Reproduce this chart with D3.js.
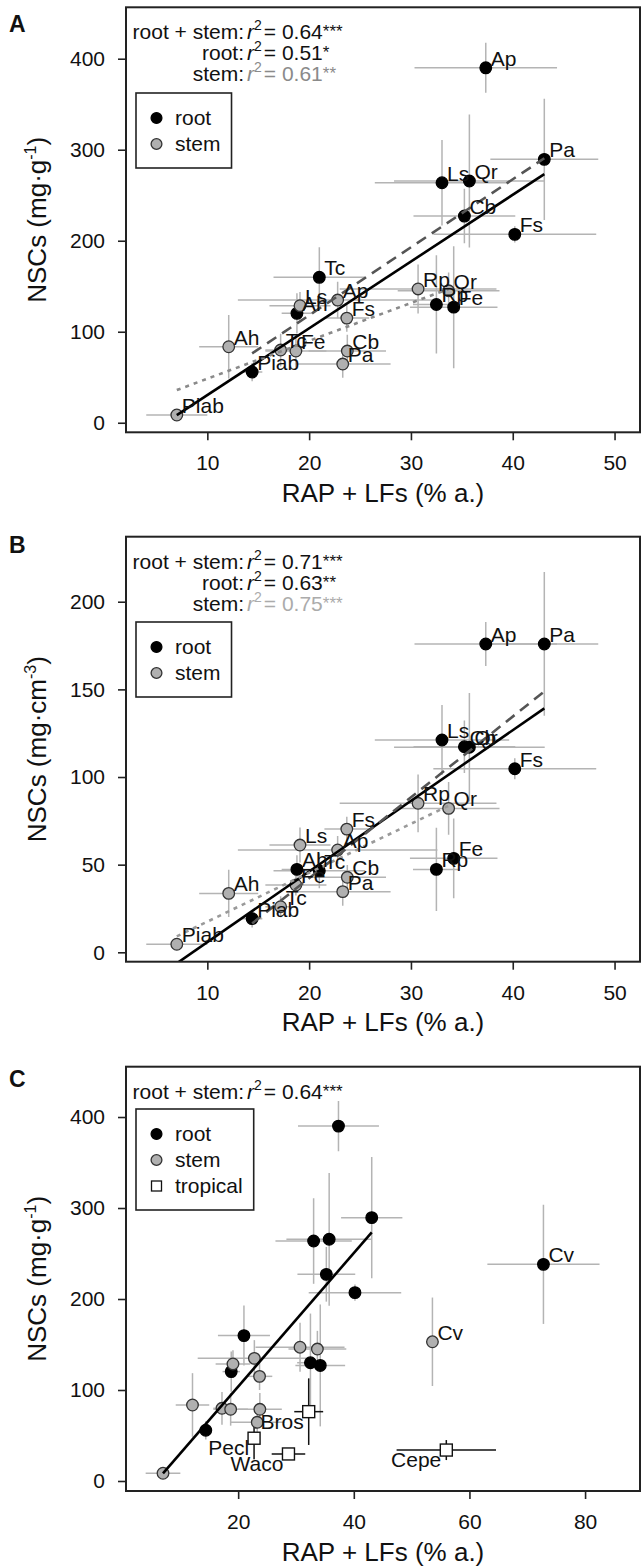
<!DOCTYPE html>
<html>
<head>
<meta charset="utf-8">
<script src="https://cdn.jsdelivr.net/npm/d3@7"></script>
<style>
  body { margin: 0; background: #fff; }
  text { font-family: "Liberation Sans", Arial, Helvetica, sans-serif; fill: #111; }
</style>
</head>
<body>
<script>
// ---- data ----
// RAP + LFs (% a.) is the same in panels A and B
const rootSpecies = ["Ap", "Pa", "Ls", "Qr", "Cb", "Fs", "Tc", "Ah", "Rp", "Fe", "Piab"];
const rootRap     = [37.35, 43.1, 33.05, 35.74, 35.25, 40.2, 21.0, 18.8, 32.5, 34.2, 14.4];
const rootRapErr  = [7.0, 5.3, 6.6, 7.4, 5.0, 8.0, 4.5, 1.5, 2.3, 4.3, 1.0];
const rootNscMass    = [390, 289.4, 263.7, 265.6, 227.1, 207, 159.8, 120.2, 130, 127, 55.7];
const rootNscMassErr = [27.5, 66.6, 47, 73, 30, 9, 33, 22, 54, 67, 10];
const rootNscVol     = [175.9, 175.9, 121.1, 117, 117.3, 104.7, 46.5, 47.3, 47.3, 53.6, 19.2];
const rootNscVolErr  = [12.6, 41, 20, 31, 15, 6, 10, 8, 23.7, 22.8, 5];

const stemSpecies = ["Rp", "Qr", "Ap", "Ls", "Fs", "Ah", "Tc", "Fe", "Cb", "Pa", "Piab"];
const stemRap     = [30.7, 33.7, 22.8, 19.1, 23.7, 12.1, 17.2, 18.7, 23.75, 23.3, 7.0];
const stemRapErr  = [7.7, 5.0, 9.8, 3.0, 2.2, 2.9, 1.5, 3.0, 3.8, 4.7, 3.0];
const stemNscMass    = [147, 145, 134.8, 128.6, 115, 83.5, 79.9, 78.8, 78.8, 64.5, 8.5];
const stemNscMassErr = [27, 20, 20, 15, 15, 35, 18, 18, 18, 15, 3];
const stemNscVol     = [85, 82.1, 58.4, 61.2, 70.3, 33.6, 26, 38.4, 42.8, 34.6, 4.6];
const stemNscVolErr  = [16.5, 15, 8, 10, 7, 13.5, 6, 6, 7, 8, 2];

// extra species only shown in panel C
const cvRoot = { name: "Cv", rap: 72.8, rapErr: 9.7, nsc: 238.1, nscErr: 65.5 };
const cvStem = { name: "Cv", rap: 53.6, rapErr: 0.5, nsc: 153, nscErr: 48.6 };
const tropicalSpecies = ["Bros", "Pecl", "Waco", "Cepe"];
const tropicalRap     = [32.2, 22.75, 28.7, 56.0];
const tropicalRapErr  = [2.5, 0.8, 2.9, 8.6];
const tropicalNsc     = [76.2, 47, 29.7, 34];
const tropicalNscErr  = [36.6, 23, 4, 11];

// regression fits: [intercept, slope]
const fitAllMass  = [-42.9, 7.335];
const fitRootMass = [-31.3, 7.47];
const fitStemMass = [6.8, 4.16];
const fitAllVol   = [-34.5, 4.03];
const fitRootVol  = [-49.9, 4.61];
const fitStemVol  = [-10.4, 2.79];

const statsA = [["root + stem:", "0.64", "***"], ["root:", "0.51", "*"], ["stem:", "0.61", "**"]];
const statsB = [["root + stem:", "0.71", "***"], ["root:", "0.63", "**"], ["stem:", "0.75", "***"]];
const statsC = [["root + stem:", "0.64", "***"]];

const ticksAB_x = [10, 20, 30, 40, 50];
const ticksC_x  = [20, 40, 60, 80];
const ticksMass_y = [0, 100, 200, 300, 400];
const ticksVol_y  = [0, 50, 100, 150, 200];

// ---- layout ----
const W = 641, H = 1566;
const boxLeft = 126, boxRight = 640;
const barGrey = "#b4b4b4";
const stemFill = "#b0b0b0";
const labelSize = 21;

const svg = d3.select("body").append("svg").attr("width", W).attr("height", H);

function rows(names, xs, xe, ys, ye) {
  return names.map((n, i) => ({ name: n, x: xs[i], xe: xe[i], y: ys[i], ye: ye[i] }));
}

function drawPanel(p) {
  const x = d3.scaleLinear().domain(p.xDomain).range([boxLeft, boxRight]);
  const y = d3.scaleLinear().domain(p.yDomain).range([p.bottom, p.top]);
  const g = svg.append("g");

  g.append("clipPath").attr("id", "clip" + p.letter)
    .append("rect")
    .attr("x", boxLeft).attr("y", p.top)
    .attr("width", boxRight - boxLeft).attr("height", p.bottom - p.top);
  const plot = g.append("g").attr("clip-path", `url(#clip${p.letter})`);

  // error bars
  p.groups.forEach(grp => {
    const eb = plot.append("g").attr("stroke", grp.barColor).attr("stroke-width", 1.5);
    eb.selectAll(".h").data(grp.data).enter().append("line")
      .attr("x1", d => x(d.x - d.xe)).attr("x2", d => x(d.x + d.xe))
      .attr("y1", d => y(d.y)).attr("y2", d => y(d.y));
    eb.selectAll(".v").data(grp.data).enter().append("line")
      .attr("x1", d => x(d.x)).attr("x2", d => x(d.x))
      .attr("y1", d => y(d.y - d.ye)).attr("y2", d => y(d.y + d.ye));
  });

  // points
  p.groups.forEach(grp => {
    if (grp.shape === "square") {
      plot.append("g").selectAll("rect").data(grp.data).enter().append("rect")
        .attr("x", d => x(d.x) - 6).attr("y", d => y(d.y) - 6)
        .attr("width", 12).attr("height", 12)
        .attr("fill", "#fff").attr("stroke", "#111").attr("stroke-width", 1.4);
    } else {
      plot.append("g").selectAll("circle").data(grp.data).enter().append("circle")
        .attr("cx", d => x(d.x)).attr("cy", d => y(d.y)).attr("r", 5.8)
        .attr("fill", grp.fill).attr("stroke", grp.stroke).attr("stroke-width", 1.3);
    }
  });

  // regression lines
  p.fits.forEach(f => {
    const [x0, x1] = d3.extent(f.data, d => d.x);
    plot.append("line")
      .attr("x1", x(x0)).attr("y1", y(f.coef[0] + f.coef[1] * x0))
      .attr("x2", x(x1)).attr("y2", y(f.coef[0] + f.coef[1] * x1))
      .attr("stroke", f.color).attr("stroke-width", 2.6)
      .attr("stroke-dasharray", f.dash || null);
  });

  // point labels
  p.groups.forEach(grp => {
    const lab = grp.data.filter(d => grp.labelAll || grp.labelOnly.includes(d.name));
    plot.append("g").selectAll("text").data(lab).enter().append("text")
      .attr("x", d => grp.labelLeft ? x(d.x) - 5 : x(d.x) + 5)
      .attr("y", d => grp.labelLeft ? y(d.y) + 17 : y(d.y) - 2)
      .attr("text-anchor", grp.labelLeft ? "end" : "start")
      .attr("font-size", labelSize)
      .text(d => d.name);
  });

  // box
  g.append("rect")
    .attr("x", boxLeft).attr("y", p.top)
    .attr("width", boxRight - boxLeft).attr("height", p.bottom - p.top)
    .attr("fill", "none").attr("stroke", "#222").attr("stroke-width", 2);

  // axes
  const xa = g.append("g").attr("transform", `translate(0,${p.bottom})`)
    .call(d3.axisBottom(x).tickValues(p.xTicks).tickSize(8).tickPadding(15));
  const ya = g.append("g").attr("transform", `translate(${boxLeft},0)`)
    .call(d3.axisLeft(y).tickValues(p.yTicks).tickSize(8).tickPadding(13));
  [xa, ya].forEach(a => {
    a.select(".domain").remove();
    a.selectAll("line").attr("stroke", "#222").attr("stroke-width", 1.6);
    a.selectAll("text").attr("font-size", 21).attr("fill", "#111")
      .style("font-family", '"Liberation Sans", Arial, sans-serif');
  });

  // axis titles
  g.append("text")
    .attr("x", (boxLeft + boxRight) / 2).attr("y", p.bottom + 69.5)
    .attr("text-anchor", "middle").attr("font-size", 26)
    .text("RAP + LFs (% a.)");
  const yt = g.append("text")
    .attr("transform", `translate(46,${(p.top + p.bottom) / 2}) rotate(-90)`)
    .attr("text-anchor", "middle").attr("font-size", 26);
  yt.append("tspan").text("NSCs (mg·" + p.unitBase);
  yt.append("tspan").attr("dy", -10).attr("font-size", 16).text(p.unitExp);
  yt.append("tspan").attr("dy", 10).text(")");

  // panel letter
  g.append("text").attr("x", 9).attr("y", p.letterY)
    .attr("font-size", 23).attr("font-weight", "bold").text(p.letter);

  // r2 statistics
  p.stats.forEach((s, i) => {
    const by = p.top + 32 + 21 * i;
    const col = i === 2 ? p.stemStatColor : "#111";
    g.append("text").attr("x", 244).attr("y", by).attr("text-anchor", "end")
      .attr("font-size", 21).text(s[0]);
    const t = g.append("text").attr("x", 247).attr("y", by).attr("font-size", 21)
      .style("fill", col);
    t.append("tspan").attr("font-style", "italic").style("fill", col).text("r");
    t.append("tspan").attr("dy", -9).attr("font-size", 14).style("fill", col).text("2");
    t.append("tspan").attr("dy", 9).attr("dx", 2).style("fill", col).text("= " + s[1]);
    t.append("tspan").attr("font-size", 17).attr("dy", -2).style("fill", col).text(s[2]);
  });

  // legend
  const lg = g.append("g");
  const lbox = lg.append("rect")
    .attr("x", 136).attr("y", p.legendTop)
    .attr("height", 23 + 26 * p.legend.length)
    .attr("fill", "#fff").attr("stroke", "#222").attr("stroke-width", 1.6);
  let maxW = 0;
  p.legend.forEach((item, i) => {
    const cy = p.legendTop + 25 + 26 * i;
    if (item.shape === "square") {
      lg.append("rect").attr("x", 151.5).attr("y", cy - 5).attr("width", 10).attr("height", 10)
        .attr("fill", "#fff").attr("stroke", "#111").attr("stroke-width", 1.3);
    } else {
      lg.append("circle").attr("cx", 156.5).attr("cy", cy).attr("r", 5.4)
        .attr("fill", item.fill).attr("stroke", item.stroke).attr("stroke-width", 1.3);
    }
    const tx = lg.append("text").attr("x", 175).attr("y", cy + 7).attr("font-size", 21).text(item.label);
    maxW = Math.max(maxW, tx.node().getComputedTextLength());
  });
  lbox.attr("width", 175 - 136 + maxW + 11);
}

const legend2 = [
  { label: "root", fill: "#000", stroke: "#000" },
  { label: "stem", fill: stemFill, stroke: "#333" }
];

const rootsA = rows(rootSpecies, rootRap, rootRapErr, rootNscMass, rootNscMassErr);
const stemsA = rows(stemSpecies, stemRap, stemRapErr, stemNscMass, stemNscMassErr);
const rootsB = rows(rootSpecies, rootRap, rootRapErr, rootNscVol, rootNscVolErr);
const stemsB = rows(stemSpecies, stemRap, stemRapErr, stemNscVol, stemNscVolErr);
const tropC  = rows(tropicalSpecies, tropicalRap, tropicalRapErr, tropicalNsc, tropicalNscErr);
const cvR = { name: cvRoot.name, x: cvRoot.rap, xe: cvRoot.rapErr, y: cvRoot.nsc, ye: cvRoot.nscErr };
const cvS = { name: cvStem.name, x: cvStem.rap, xe: cvStem.rapErr, y: cvStem.nsc, ye: cvStem.nscErr };

drawPanel({
  letter: "A", letterY: 31.7, top: 7.3, bottom: 432.3,
  xDomain: [2.01, 52.5], yDomain: [-10.5, 456.5],
  xTicks: ticksAB_x, yTicks: ticksMass_y, unitBase: "g", unitExp: "-1",
  groups: [
    { data: rootsA, fill: "#000", stroke: "#000", barColor: barGrey, labelAll: true },
    { data: stemsA, fill: stemFill, stroke: "#333", barColor: barGrey, labelAll: true }
  ],
  fits: [
    { coef: fitAllMass, data: rootsA.concat(stemsA), color: "#000" },
    { coef: fitRootMass, data: rootsA, color: "#555", dash: "11,7" },
    { coef: fitStemMass, data: stemsA, color: "#8a8a8a", dash: "4,5" }
  ],
  stats: statsA, stemStatColor: "#8a8a8a",
  legendTop: 93, legend: legend2
});

drawPanel({
  letter: "B", letterY: 553.3, top: 536.7, bottom: 961.7,
  xDomain: [2.01, 52.5], yDomain: [-5.36, 237.1],
  xTicks: ticksAB_x, yTicks: ticksVol_y, unitBase: "cm", unitExp: "-3",
  groups: [
    { data: rootsB, fill: "#000", stroke: "#000", barColor: barGrey, labelAll: true },
    { data: stemsB, fill: stemFill, stroke: "#333", barColor: barGrey, labelAll: true }
  ],
  fits: [
    { coef: fitAllVol, data: rootsB.concat(stemsB), color: "#000" },
    { coef: fitRootVol, data: rootsB, color: "#555", dash: "11,7" },
    { coef: fitStemVol, data: stemsB, color: "#9a9a9a", dash: "4,5" }
  ],
  stats: statsB, stemStatColor: "#ababab",
  legendTop: 622, legend: legend2
});

drawPanel({
  letter: "C", letterY: 1086.7, top: 1066.7, bottom: 1491,
  xDomain: [0.6, 89.5], yDomain: [-11, 455.3],
  xTicks: ticksC_x, yTicks: ticksMass_y, unitBase: "g", unitExp: "-1",
  groups: [
    { data: rootsA.concat([cvR]), fill: "#000", stroke: "#000", barColor: barGrey, labelOnly: ["Cv"] },
    { data: stemsA.concat([cvS]), fill: stemFill, stroke: "#333", barColor: barGrey, labelOnly: ["Cv"] },
    { data: tropC, shape: "square", barColor: "#111", labelAll: true, labelLeft: true }
  ],
  fits: [
    { coef: fitAllMass, data: rootsA.concat(stemsA), color: "#000" }
  ],
  stats: statsC, stemStatColor: "#111",
  legendTop: 1109,
  legend: legend2.concat([{ label: "tropical", shape: "square" }])
});
</script>
</body>
</html>
